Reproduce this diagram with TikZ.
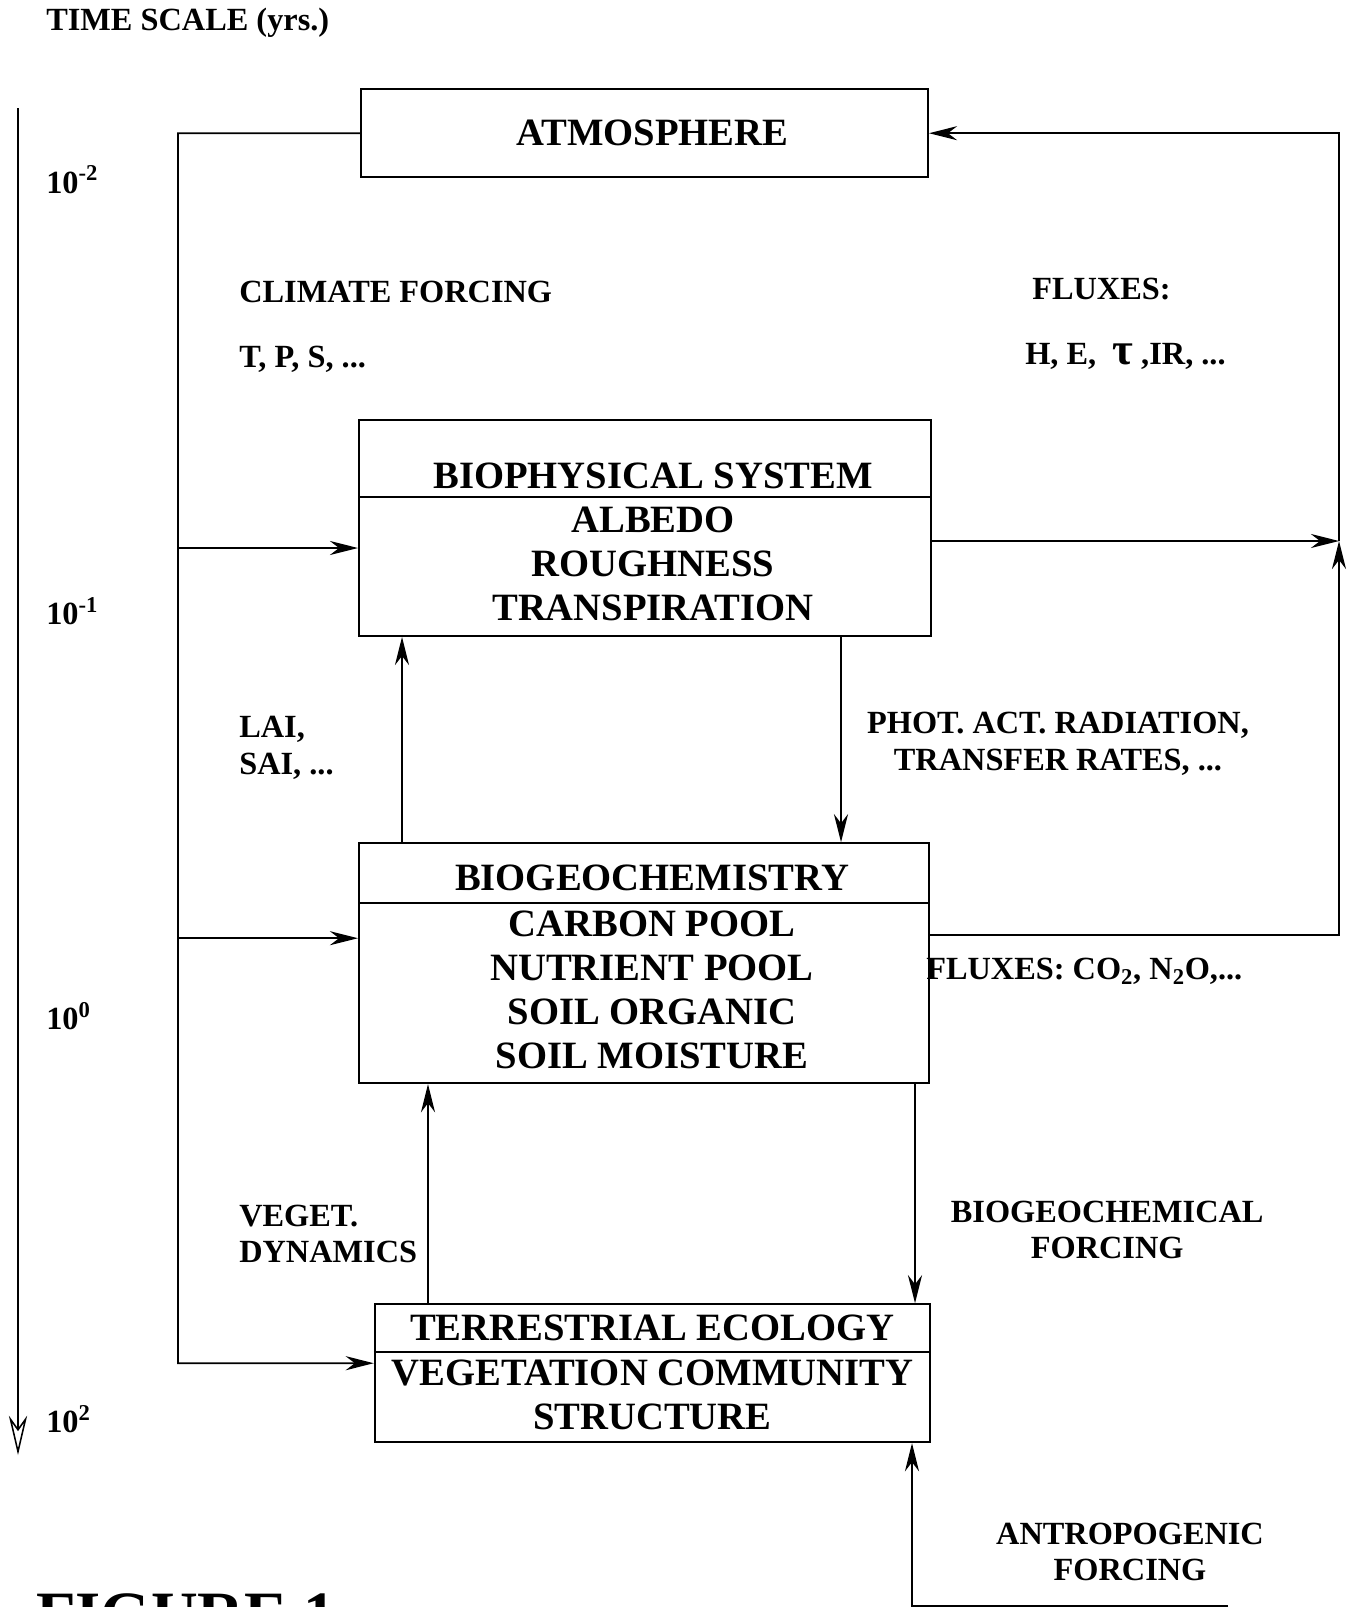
\documentclass[tikz,border=0pt]{standalone}
\usepackage{fontspec}
\setmainfont{Liberation Serif}
\usetikzlibrary{arrows.meta}

\begin{document}
\begin{tikzpicture}[
  x=1cm, y=1cm,
  boite/.style={draw, line width=1.4pt, inner sep=0pt},
  txtb/.style={font=\fontsize{27.5}{31.3}\selectfont\bfseries, align=center, inner sep=0pt},
  lbl/.style={font=\fontsize{23}{26}\selectfont\bfseries, align=left, inner sep=0pt},
  lblc/.style={lbl, align=center},
  lien/.style={line width=1.3pt},
  fleche/.style={line width=1.3pt, -{Stealth[length=20pt,width=10pt]}},
  axe/.style={line width=1.1pt, -{Stealth[open,length=28pt,width=13pt]}}
]
\useasboundingbox (0,0) rectangle (33.9,-40.175);

% ---- echelle de temps a gauche ----
\node[lbl, anchor=west] (tscale) at (1.15,-0.56) {TIME SCALE (yrs.)};
\coordinate (tHaut) at (0.45,-2.7);
\coordinate (tBas) at (0.45,-36.375);
\draw[axe] (tHaut) -- (tBas);
\node[lbl, anchor=west] (tm2) at (1.15,-4.5)   {10\textsuperscript{-2}};
\node[lbl, anchor=west] (tm1) at (1.15,-15.28) {10\textsuperscript{-1}};
\node[lbl, anchor=west] (t0)  at (1.15,-25.4)  {10\textsuperscript{0}};
\node[lbl, anchor=west] (t2)  at (1.15,-35.48) {10\textsuperscript{2}};

% ---- les quatre boites ----
\node[boite, minimum width=14.18cm, minimum height=2.2cm] (atm) at (16.11,-3.33) {};
\node[txtb] (atmT) at ([xshift=0.2cm]atm.center) {ATMOSPHERE};

\node[boite, minimum width=14.3cm, minimum height=5.4cm] (bio) at (16.125,-13.2) {};
\draw[lien] ([yshift=-1.95cm]bio.north west) -- ([yshift=-1.95cm]bio.north east);
\node[txtb] (bioT) at ([xshift=0.2cm,yshift=-1.425cm]bio.north) {BIOPHYSICAL SYSTEM};
\node[txtb] (bioB) at ([xshift=0.2cm,yshift=-3.625cm]bio.north) {ALBEDO\\ROUGHNESS\\TRANSPIRATION};

\node[boite, minimum width=14.25cm, minimum height=6cm] (geo) at (16.1,-24.08) {};
\draw[lien] ([yshift=-1.525cm]geo.north west) -- ([yshift=-1.525cm]geo.north east);
\node[txtb] (geoT) at ([xshift=0.2cm,yshift=-0.9cm]geo.north) {BIOGEOCHEMISTRY};
\node[txtb] (geoB) at ([xshift=0.2cm,yshift=-3.7cm]geo.north) {CARBON POOL\\NUTRIENT POOL\\SOIL ORGANIC\\SOIL MOISTURE};

\node[boite, minimum width=13.88cm, minimum height=3.45cm] (eco) at (16.31,-34.33) {};
\draw[lien] ([yshift=-1.225cm]eco.north west) -- ([yshift=-1.225cm]eco.north east);
\node[txtb] (ecoT) at ([yshift=-0.625cm]eco.north) {TERRESTRIAL ECOLOGY};
\node[txtb] (ecoB) at ([yshift=-2.29cm]eco.north) {VEGETATION COMMUNITY\\STRUCTURE};

% ---- forcage climatique : ligne de gauche ----
\coordinate (bioIn) at ([yshift=-0.5cm]bio.west);
\coordinate (geoIn) at ([yshift=0.625cm]geo.west);
\coordinate (ecoIn) at ([yshift=0.25cm]eco.west);
\coordinate (cfBas) at (4.45,-34.08);
\draw[fleche] (atm.west) -| (cfBas) -- (ecoIn);
\draw[fleche] (cfBas |- bioIn) -- (bioIn);
\draw[fleche] (cfBas |- geoIn) -- (geoIn);

\node[lbl, anchor=west] (clim) at (5.975,-7.3)  {CLIMATE FORCING};
\node[lbl, anchor=west] (tps)  at (5.975,-8.975) {T, P, S, ...};

% ---- flux vers l'atmosphere : boucle de droite ----
\coordinate (bioOut) at ([yshift=-0.325cm]bio.east);
\coordinate (geoOut) at ([yshift=0.7cm]geo.east);
\coordinate (jn) at (33.475,-13.525);
\draw[fleche] (bioOut) -- (jn);
\draw[fleche] (geoOut) -| (jn);
\draw[fleche] (jn) |- (atm.east);

\node[lbl, anchor=west] (flux)  at (25.8,-7.225)  {FLUXES:};
\node[lbl, anchor=west] (hetau) at (25.625,-8.9)  {H, E,\enspace{\fontsize{32}{32}\selectfont τ} ,IR, ...};
\node[lbl, anchor=west] (fluxco) at (23.15,-24.28) {FLUXES: CO\textsubscript{2}, N\textsubscript{2}O,...};

% ---- echanges entre les boites ----
\coordinate (laiBas) at ([xshift=-6.05cm]geo.north);
\draw[fleche] (laiBas) -- (laiBas |- bio.south);
\coordinate (parHaut) at ([xshift=4.9cm]bio.south);
\draw[fleche] (parHaut) -- (parHaut |- geo.north);
\node[lbl, anchor=west] (lai) at (5.975,-18.7) {LAI,\\SAI, ...};
\node[lblc] (par) at (26.45,-18.59) {PHOT. ACT. RADIATION,\\TRANSFER RATES, ...};

\coordinate (vegBas) at ([xshift=-5.61cm]eco.north);
\draw[fleche] (vegBas) -- (vegBas |- geo.south);
\coordinate (bgcHaut) at ([xshift=6.775cm]geo.south);
\draw[fleche] (bgcHaut) -- (bgcHaut |- eco.north);
\node[lbl, anchor=west] (veg) at (5.975,-30.85) {VEGET.\\DYNAMICS};
\node[lblc] (bgc) at (27.68,-30.75) {BIOGEOCHEMICAL\\FORCING};

% ---- forcage anthropique en bas ----
\coordinate (antro) at (30.7,-40.15);
\coordinate (antHaut) at ([xshift=6.49cm]eco.south);
\draw[fleche] (antro) -| (antHaut);
\node[lblc] (antlbl) at (28.25,-38.8) {ANTROPOGENIC\\FORCING};

\node[font=\fontsize{46}{50}\selectfont\bfseries, anchor=base west, inner sep=0pt] (fig) at (0.9,-40.9) {FIGURE 1};

\end{tikzpicture}
\end{document}
